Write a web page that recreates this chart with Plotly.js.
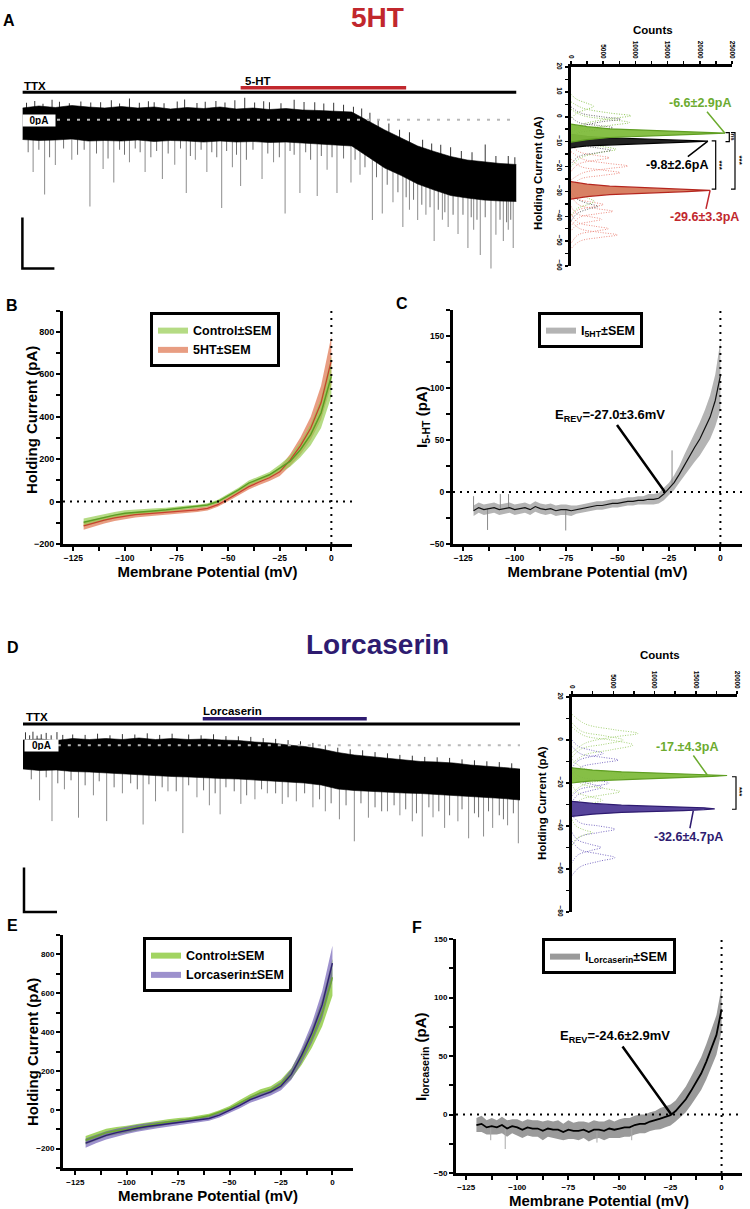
<!DOCTYPE html>
<html><head><meta charset="utf-8">
<script src="https://cdn.plot.ly/plotly-3.0.1.min.js"></script>
<style>body{margin:0;background:#fff}#chart{width:750px;height:1209px}</style>
</head><body><div id="chart"></div>
<script>
const FONT = 'Arial, "Liberation Sans", Helvetica, sans-serif';

// ---------------- DATA ----------------
// raw holding-current traces (time in s, current in pA; envelope of the recording)
const traceTime = [0,20,40,60,80,100,120,140,160,180,200,220,240,260,280,300,320,340,360,380,400,420,440,460,480,500,520,540,560,580,600];
const traceA_top = [4.7,5.5,4.9,5.7,5.1,4.7,5.3,4.7,5.1,4.3,4.9,4.5,5.1,4.3,4.7,4.1,4.5,3.9,3.7,3.3,3.1,-0.5,-4.1,-7.3,-10.5,-12.7,-14.7,-16.1,-16.9,-17.5,-17.9];
const traceA_bottom = [-7.9,-8.3,-8.1,-7.7,-8.5,-8.3,-8.5,-8.1,-8.7,-8.3,-8.5,-8.9,-8.5,-8.9,-8.7,-9.1,-8.9,-9.3,-9.5,-9.9,-10.5,-14.9,-19.3,-22.3,-25.7,-28.1,-30.3,-31.3,-32.1,-32.5,-32.7];
const spikesA_t = [13,27,40,60,82,98,111,130,149,170,185,199,210,224,242,255,265,291,305,319,337,358,370,382,399,410,425,437,450,462,470,480,490,500,510,517,529,541,548,556,569,575,584,590,596];
const spikesA_low = [-20.9,-29.9,-18.1,-16,-34.7,-19.7,-25.1,-17,-20.9,-23.7,-18,-29.3,-16,-20.9,-35.3,-19,-26.5,-23.7,-17,-37.5,-29.3,-30.5,-20,-29.3,-25.1,-22,-40.1,-37.5,-33,-42.9,-36,-40.1,-38,-48.5,-40,-42.9,-45.7,-51.3,-44,-54.1,-59.5,-46,-48.5,-44,-51.3];
const spikesA_from = [-4,-4,-4,-4,-4,-4,-4,-4,-4,-4,-4,-4,-4,-4,-4,-4,-4,-4,-4,-4,-4,-4,-4,-4,-4,-8,-10,-14,-16,-19,-21,-23,-24,-25,-27,-27,-27,-27,-27,-27,-27,-27,-27,-27,-27];
const shallowA_t = [7,20,33,50,67,75,90,104,118,124,137,143,156,163,177,192,204,217,230,236,248,260,272,280,298,312,325,330,344,350,363,376,390,404,416,430,443,456,466,475,485,495,505,513,523,535,545,552,562,580,588,593];
const shallowA_low = [-13,-12,-15,-11.5,-14,-12,-13.5,-15.5,-12,-14,-11.5,-13,-15,-12.5,-13.5,-11.5,-14.5,-12,-13,-15,-12.5,-14,-16,-12,-13.5,-15,-12.5,-14,-13,-16,-14.5,-15,-15.5,-16,-19,-23,-26,-29,-31,-32,-34,-35,-36,-37,-38,-38,-39,-40,-39,-40,-41,-40];
const shallowA_from = [-4,-4,-4,-4,-4,-4,-4,-4,-4,-4,-4,-4,-4,-4,-4,-4,-4,-4,-4,-4,-4,-4,-4,-4,-4,-4,-4,-4,-4,-4,-4,-4,-4,-6,-10,-13,-17,-20,-22,-23,-24,-25,-26,-27,-27,-27,-27,-27,-27,-27,-27,-27];
const upA_t = [5,15,25,36,45,57,71,83,95,108,118,130,142,153,160,172,188,197,212,222,235,246,258,270,282,293,300,314,330,342,355,366,378,390,402,412,422,432,445,458,470,486,497,508,520,533,546,562,575,590,598];
const upA_high = [6.8,7.5,6.4,8,7.2,6.6,7.3,6.9,7,7.8,6.5,8.5,6.8,7.4,7,6.6,7.3,8.1,6.7,7.2,7.5,6.9,7.8,8.8,6.9,7.4,7,6.6,8,7.1,7,6.5,6.8,6,5.2,4.5,2.8,0,-1.5,-4,-5,-8,-9.5,-10,-11,-12.5,-13,-9.9,-14.5,-14.5,-15];
const upA_from = [2,2,2,2,2,2,2,2,2,2,2,2,2,2,2,2,2,2,2,2,2,2,2,2,2,2,2,2,2,2,2,2,2,2,0,-2,-4,-6,-8,-11,-13,-15,-17,-20,-20,-20,-20,-20,-20,-20,-20];
const drugA = [265, 466];   // 5-HT application (s)

const traceD_top = [2.65,3.15,2.4,3.4,2.9,3.4,2.9,3.65,2.9,3.4,2.9,3.15,2.65,2.4,1.65,1.15,0.15,-0.6,-1.85,-3.6,-4.85,-5.6,-6.35,-7.35,-8.1,-8.35,-8.85,-9.85,-10.35,-11.1,-11.85];
const traceD_bottom = [-11.85,-12.6,-12.35,-13.1,-13.35,-13.85,-14.1,-14.85,-15.1,-15.6,-15.85,-16.35,-16.6,-16.85,-17.35,-17.85,-18.35,-18.85,-19.85,-21.85,-22.6,-23.1,-23.35,-23.85,-24.1,-24.6,-24.85,-25.35,-25.85,-26.6,-27.35];
const spikesD_t = [20,35,50,67,85,101,120,145,160,175,193,210,225,238,263,280,295,313,330,350,365,382,400,417,440,455,470,482,495,509,525,538,556,567,585,598];
const spikesD_low = [-27.5,-37.9,-22,-36.2,-25,-37.9,-24,-39.6,-28,-23,-43.9,-26,-30,-34.5,-29.3,-27,-24,-29.3,-28,-31,-33,-37,-48,-36.2,-33,-35,-38,-45.6,-36,-41.3,-38,-46.5,-45.6,-41.3,-40,-49];
const spikesD_from = [-6,-6,-6,-6,-6,-6,-6,-6,-6,-6,-6,-6,-6,-6,-6,-6,-6,-10,-10,-10,-10,-14,-14,-14,-18,-18,-18,-18,-18,-18,-18,-18,-18,-18,-18,-18];
const shallowD_t = [10,28,42,58,75,92,110,130,138,152,168,185,200,218,232,245,255,270,288,305,320,340,358,372,390,408,425,433,448,462,475,490,502,515,530,545,550,562,575,580,592];
const shallowD_low = [-17,-16,-19,-17.5,-20,-18,-21,-19,-22,-19.5,-21,-23,-20,-22.5,-24,-21,-23,-25,-22,-24,-26,-24,-27,-29,-30,-29,-31,-33,-30,-32,-34,-31,-33,-35,-32,-34,-36,-33,-35,-37,-34];
const shallowD_from = [-6,-6,-6,-6,-6,-6,-6,-6,-6,-6,-6,-6,-6,-6,-6,-6,-6,-6,-6,-10,-10,-10,-10,-10,-10,-14,-14,-14,-14,-14,-18,-18,-18,-18,-18,-18,-18,-18,-18,-18,-18];
const upD_t = [3,8,12,17,22,28,34,41,48,60,75,90,105,120,135,150,165,180,200,215,230,245,260,275,290,305,320,335,350,365,380,395,410,425,440,455,470,485,500,515,530,545,560,575,590];
const upD_high = [6.5,5,6.8,4.8,5.5,6.2,5,6.6,5.2,5.4,5.2,5.8,5,5.6,5.4,6,5.2,5.8,5.4,5,5.5,4.6,4.5,4.2,3.6,3.2,2.6,2,1.2,0,-1.2,-2,-2.5,-3.4,-4,-4.8,-5.2,-5.8,-6,-6.3,-7,-7.5,-8,-8.4,-9];
const upD_from = [0,0,0,0,0,0,0,0,0,0,0,0,0,0,0,0,0,0,0,0,0,0,0,0,0,-6,-6,-6,-6,-6,-6,-6,-14,-14,-14,-14,-14,-14,-14,-14,-14,-14,-14,-14,-14];
const drugD = [217, 415];   // lorcaserin application (s)

// all-point histograms (counts vs holding current)
const peakA_ctrl_cnt = [0,800,2500,6000,10000,14000,19000,23900,19000,14000,10000,6000,2500,800,0];
const peakA_ctrl_pA = [-3.0,-3.3,-4.0,-4.85,-5.3,-5.65,-6.1,-6.6,-7.1,-7.55,-7.9,-8.35,-9.2,-9.9,-10.2];
const peakA_wash_cnt = [0,800,2500,6000,10000,14000,18000,21250,18000,14000,10000,6000,2500,800,0];
const peakA_wash_pA = [-7.1,-7.4,-7.9,-8.45,-8.8,-9.05,-9.4,-9.8,-10.2,-10.55,-10.8,-11.15,-11.7,-12.2,-12.5];
const peakA_5ht_cnt = [0,800,2500,6000,10000,14000,18000,21600,18000,14000,10000,6000,2500,800,0];
const peakA_5ht_pA = [-26.1,-26.5,-27.1,-27.9,-28.35,-28.7,-29.1,-29.6,-30.1,-30.5,-30.85,-31.3,-32.1,-32.7,-33.1];
const dotA_ctrl_pA = [[6,3.5,1.5,0.4,-0.8,-3,-5.5],[3,0.5,-1.1,-2.3,-3.5,-5.2,-8],[9,7,5.4,4.2,3,1.5,-1],[-7,-10,-11.8,-13.1,-14.4,-16.5,-20],[-28,-31,-32.7,-34,-35.3,-37,-40]];
const dotA_ctrl_cnt = [[0,1800,6000,9300,6000,1800,0],[0,1800,6000,9100,6000,1800,0],[0,900,2500,3500,2500,900,0],[0,1500,4500,7000,4500,1500,0],[0,900,2600,3600,2600,900,0]];
const dotA_wash_pA = [[4,1.5,0,-1,-2,-4,-6.5],[0,-2.3,-3.5,-4.4,-5.3,-6.5,-9],[-8,-11,-12.5,-13.5,-14.5,-16,-19],[-30,-33,-35,-36,-37,-39,-42]];
const dotA_wash_cnt = [[0,1500,4800,7700,4800,1500,0],[0,1200,4200,6500,4200,1200,0],[0,1200,4000,6200,4000,1200,0],[0,900,2800,4200,2800,900,0]];
const dotA_5ht_pA = [[-11,-14,-15.5,-16.5,-17.5,-19,-22],[-14,-17,-18.7,-19.8,-20.9,-22.6,-25.5],[-17,-20,-21.4,-22.5,-23.6,-25,-28],[-30,-33,-34.3,-35.3,-36.3,-37.6,-40.5],[-32,-35.5,-37,-38,-39,-40.5,-44],[-36,-39,-40.2,-41.2,-42.2,-43.5,-46],[-39,-42.5,-44,-45,-46,-47.5,-51],[-42,-45,-46.5,-47.5,-48.5,-50,-53]];
const dotA_5ht_cnt = [[0,1200,3800,5900,3800,1200,0],[0,1800,5600,8800,5600,1800,0],[0,1500,4800,7600,4800,1500,0],[0,1000,3200,5000,3200,1000,0],[0,1300,4100,6500,4100,1300,0],[0,900,3000,4800,3000,900,0],[0,1100,3700,5800,3700,1100,0],[0,1400,4600,7200,4600,1400,0]];

const peakD_ctrl_cnt = [0,800,2500,6000,10000,14000,17000,18800,17000,14000,10000,6000,2500,800,0];
const peakD_ctrl_pA = [-13.0,-13.4,-14.0,-14.8,-15.25,-15.65,-16.05,-16.5,-16.95,-17.35,-17.75,-18.2,-19.0,-19.6,-20.0];
const peakD_lor_cnt = [0,800,2500,6000,10000,13500,16000,17300,16000,13500,10000,6000,2500,800,0];
const peakD_lor_pA = [-28.5,-28.9,-29.5,-30.3,-30.75,-31.15,-31.55,-32.0,-32.45,-32.85,-33.25,-33.7,-34.5,-35.1,-35.5];
const dotD_ctrl_pA = [[12,7.5,4.8,3.1,1.4,-1.5,-6],[6,2,0,-2.3,-4.6,-7,-11],[8,4,2,0,-2,-4,-8],[-9,-13,-15,-16.7,-18.4,-21,-25],[-17,-20.5,-22.4,-24,-25.6,-27.5,-31],[-21,-24.5,-26.5,-28,-29.5,-31.5,-35],[-37,-40,-42,-43,-44,-46,-49]];
const dotD_ctrl_cnt = [[0,1600,5100,8000,5100,1600,0],[0,1500,4700,7400,4700,1500,0],[0,1200,3900,6200,3900,1200,0],[0,1300,4200,6600,4200,1300,0],[0,1200,3700,5800,3700,1200,0],[0,700,2300,3700,2300,700,0],[0,500,1600,2500,1600,500,0]];
const dotD_lor_pA = [[-3,-6.5,-8,-9.3,-10.6,-12.5,-16],[0,-3,-4.8,-6.2,-7.6,-9.5,-13],[-15,-18.5,-20.5,-22,-23.5,-25.5,-29],[-35,-38.5,-40,-41.5,-43,-45,-49],[-47,-51,-53,-54.7,-56.4,-59,-63],[-43,-46.5,-48.5,-50,-51.5,-53.5,-57],[-14,-17,-18.6,-20,-21.4,-23,-26]];
const dotD_lor_cnt = [[0,1100,3600,5600,3600,1100,0],[0,800,2400,3800,2400,800,0],[0,700,2300,3700,2300,700,0],[0,1000,3300,5200,3300,1000,0],[0,1000,3300,5200,3300,1000,0],[0,700,2200,3500,2200,700,0],[0,900,2900,4500,2900,900,0]];

// I-V curves (membrane potential in mV, current in pA)
const mvB = [-120,-115,-110,-105,-100,-95,-90,-85,-80,-75,-70,-65,-60,-55,-50,-45,-40,-35,-30,-25,-20,-15,-10,-5,0];
const ctrlB_mean = [-98,-86,-74,-64,-55,-50,-47,-43,-39,-33,-28,-24,-16,0,27,55,87,107,126,157,189,244,315,417,590];
const ctrlB_sem = [18,17,16,15,14,13,12,11,10,10,9,9,8,8,9,10,12,12,13,18,25,35,50,70,95];
const htB_mean = [-115,-100,-88,-77,-68,-62,-58,-54,-50,-47,-44,-39,-32,-15,12,42,70,92,112,140,195,262,345,465,665];
const htB_sem = [18,17,16,15,14,13,12,12,11,11,10,10,10,10,11,12,13,14,15,20,28,40,55,80,115];

const mvFine = [-120,-117.5,-115,-112.5,-110,-107.5,-105,-102.5,-100,-97.5,-95,-92.5,-90,-87.5,-85,-82.5,-80,-77.5,-75,-72.5,-70,-67.5,-65,-62.5,-60,-57.5,-55,-52.5,-50,-47.5,-45,-42.5,-40,-37.5,-35,-32.5,-30,-27.5,-25,-22.5,-20,-17.5,-15,-12.5,-10,-7.5,-5,-2.5,0];
const iC_mean = [-18,-15,-17,-16,-15,-17,-16,-15,-17,-16,-15,-17,-14,-16,-17,-16,-18,-17,-17,-18,-17,-16,-15,-14,-13,-13,-12,-11,-11,-10,-9,-9,-8,-8,-7,-7,-6,-2,3,9,17,26,34,43,51,61,72,88,112];
const iC_sem = [5,5,5,5,5,5,5,5,5,5,5,5,5,5,5,5,5,5,5,5,4,4,4,4,4,4,4,4,4,4,4,4,4,4,5,5,5,6,6,7,8,10,12,14,16,18,21,25,33];
const spkC_mv = [-120,-113.2,-107,-103,-75.2,-23.5];
const spkC_from = [-18,-16,-16,-15,-17,8];
const spkC_to = [-4,-36.5,-2,-2,-37,40];

const mvE = [-120,-115,-110,-105,-100,-95,-90,-85,-80,-75,-70,-65,-60,-55,-50,-45,-40,-35,-30,-25,-20,-15,-10,-5,0];
const ctrlE_mean = [-157,-137,-118,-108,-101,-90,-80,-71,-63,-56,-50,-41,-31,-14,7,36,64,88,103,134,186,268,369,499,682];
const ctrlE_sem = [22,21,20,19,18,17,16,15,14,13,12,12,11,11,12,14,16,17,18,22,28,38,50,70,95];
const lorE_mean = [-172,-150,-132,-118,-106,-95,-86,-79,-72,-66,-60,-53,-45,-28,-5,22,52,74,92,122,182,280,395,540,755];
const lorE_sem = [24,22,21,20,19,18,17,16,15,14,13,13,12,12,13,14,16,17,18,22,28,38,50,70,90];

const iF_mean = [-9,-8,-11,-10,-11,-9,-12,-10,-11,-13,-11,-12,-12,-14,-12,-13,-13,-15,-13,-14,-14,-13,-15,-13,-13,-14,-12,-13,-12,-11,-11,-9,-8,-8,-6,-5,-3.5,-2,-0.5,3,8,13,20,27,35,45,56,68,90];
const iF_sem = [6,7,6,7,6,7,7,6,7,7,7,7,7,8,7,7,8,7,8,7,8,7,8,8,7,8,8,7,8,8,8,8,8,8,8,8,9,9,9,9,10,11,12,13,14,15,16,17,19];
const spkF_mv = [-113,-105.9,-61,-44];
const spkF_from = [-10,-10,-13,-10];
const spkF_to = [-22,-29.5,-24,-22];

// ---------------- BUILD ----------------
const X = px => px / 750;
const Y = py => 1 - py / 1209;
const traces = [];
const add = t => traces.push(Object.assign({hoverinfo:'skip'}, t));
function segs(xs, from, to) { const x = [], y = []; xs.forEach((v, i) => { x.push(v, v, null); y.push(from[i], to[i], null); }); return {x, y}; }
function segTrace(xs, from, to, color, w, ax, ay) { const s = segs(xs, from, to); add({x: s.x, y: s.y, xaxis: ax, yaxis: ay, mode: 'lines', line: {color: color, width: w}, showlegend: false}); }
function band(xs, mean, sem, fillcolor, ax, ay, leg) {
  add({x: xs, y: mean.map((m, i) => m - sem[i]), xaxis: ax, yaxis: ay, mode: 'lines', line: {width: 0, color: fillcolor}, showlegend: false});
  add(Object.assign({x: xs, y: mean.map((m, i) => m + sem[i]), xaxis: ax, yaxis: ay, mode: 'lines', fill: 'tonexty', fillcolor: fillcolor, line: {width: 0, color: fillcolor}, showlegend: false}, leg || {}));
}
function line(xs, ys, color, w, ax, ay) { add({x: xs, y: ys, xaxis: ax, yaxis: ay, mode: 'lines', line: {color: color, width: w}, showlegend: false}); }
function rawTrace(top, bottom, ax, ay) {
  add({x: traceTime, y: bottom, xaxis: ax, yaxis: ay, mode: 'lines', line: {color: '#000', width: 0.6}, showlegend: false});
  add({x: traceTime, y: top, xaxis: ax, yaxis: ay, mode: 'lines', fill: 'tonexty', fillcolor: '#000', line: {color: '#000', width: 0.6}, showlegend: false});
}

// Panel A trace
segTrace(spikesA_t, spikesA_from, spikesA_low, '#5a5a5a', 0.7, 'x', 'y');
segTrace(shallowA_t, shallowA_from, shallowA_low, '#333', 0.7, 'x', 'y');
rawTrace(traceA_top, traceA_bottom, 'x', 'y');
segTrace(upA_t, upA_from, upA_high, '#000', 0.8, 'x', 'y');

// Panel A histogram
const dotLine = (pa, cn, col, ax, ay) => pa.forEach((p, i) => add({x: cn[i], y: p, xaxis: ax, yaxis: ay, mode: 'lines', line: {color: col, width: 1, dash: '1px,1.5px', shape: 'spline'}, showlegend: false}));
dotLine(dotA_5ht_pA, dotA_5ht_cnt, '#ee8f84', 'x2', 'y2');
dotLine(dotA_ctrl_pA, dotA_ctrl_cnt, '#93c95a', 'x2', 'y2');
dotLine(dotA_wash_pA, dotA_wash_cnt, '#6a6a6a', 'x2', 'y2');
const peak = (cn, pa, fill, col, ax, ay) => add({x: cn, y: pa, xaxis: ax, yaxis: ay, mode: 'lines', fill: 'toself', fillcolor: fill, line: {color: col, width: 1.2}, showlegend: false});
peak(peakA_5ht_cnt, peakA_5ht_pA, 'rgba(214,122,92,0.95)', '#b5261e', 'x2', 'y2');
peak(peakA_wash_cnt, peakA_wash_pA, '#222', '#000', 'x2', 'y2');
peak(peakA_ctrl_cnt, peakA_ctrl_pA, 'rgba(128,188,60,0.95)', '#5f9e22', 'x2', 'y2');

// Panel B
band(mvB, htB_mean, htB_sem, 'rgba(228,140,108,0.85)', 'x3', 'y3', {showlegend: true, name: '5HT±SEM', legend: 'legend', legendrank: 2});
band(mvB, ctrlB_mean, ctrlB_sem, 'rgba(150,204,80,0.7)', 'x3', 'y3', {showlegend: true, name: 'Control±SEM', legend: 'legend', legendrank: 1});
line(mvB, htB_mean, '#c8412f', 1.3, 'x3', 'y3');
line(mvB, ctrlB_mean, '#5a9e24', 1.5, 'x3', 'y3');

// Panel C
band(mvFine, iC_mean, iC_sem, '#b4b4b4', 'x4', 'y4', {showlegend: true, name: 'I<sub>5HT</sub>±SEM', legend: 'legend2'});
segTrace(spkC_mv, spkC_from, spkC_to, '#8a8a8a', 1, 'x4', 'y4');
line(mvFine, iC_mean, '#111', 1.2, 'x4', 'y4');

// Panel D trace
segTrace(spikesD_t, spikesD_from, spikesD_low, '#5a5a5a', 0.7, 'x5', 'y5');
segTrace(shallowD_t, shallowD_from, shallowD_low, '#333', 0.7, 'x5', 'y5');
rawTrace(traceD_top, traceD_bottom, 'x5', 'y5');
segTrace(upD_t, upD_from, upD_high, '#000', 0.8, 'x5', 'y5');

// Panel D histogram
dotLine(dotD_lor_pA, dotD_lor_cnt, '#7d6ec4', 'x6', 'y6');
dotLine(dotD_ctrl_pA, dotD_ctrl_cnt, '#a6d277', 'x6', 'y6');
peak(peakD_lor_cnt, peakD_lor_pA, 'rgba(78,58,150,0.95)', '#2e1b70', 'x6', 'y6');
peak(peakD_ctrl_cnt, peakD_ctrl_pA, 'rgba(128,188,60,0.95)', '#5f9e22', 'x6', 'y6');

// Panel E
band(mvE, ctrlE_mean, ctrlE_sem, 'rgba(146,204,70,0.85)', 'x7', 'y7', {showlegend: true, name: 'Control±SEM', legend: 'legend3', legendrank: 1});
band(mvE, lorE_mean, lorE_sem, 'rgba(92,72,172,0.6)', 'x7', 'y7', {showlegend: true, name: 'Lorcaserin±SEM', legend: 'legend3', legendrank: 2});
line(mvE, ctrlE_mean, '#6aa82c', 1.4, 'x7', 'y7');
line(mvE, lorE_mean, '#2e1f73', 1.4, 'x7', 'y7');

// Panel F
band(mvFine, iF_mean, iF_sem, '#9a9a9a', 'x8', 'y8', {showlegend: true, name: 'I<sub>Lorcaserin</sub>±SEM', legend: 'legend4'});
segTrace(spkF_mv, spkF_from, spkF_to, '#aaa', 1, 'x8', 'y8');
line(mvFine, iF_mean, '#000', 1.8, 'x8', 'y8');

// ---------------- LAYOUT ----------------
const tf = (sz) => ({family: FONT, size: sz, color: '#000', weight: 'bold'});
function ivAxis(dom, rng, dt, mdt, anchor, extra) {
  return Object.assign({domain: dom, range: rng, anchor: anchor, showline: true, linewidth: 3, linecolor: '#000', ticks: 'outside', ticklen: 4, tickwidth: 2, tickcolor: '#000', dtick: dt, tick0: 0, showgrid: false, zeroline: false, tickfont: tf(9), minor: {ticks: 'outside', dtick: mdt, ticklen: 4, tickwidth: 2, tickcolor: '#000', showgrid: false}}, extra || {});
}
function histAxis(dom, rng, dt, mdt, anchor, extra) {
  return Object.assign({domain: dom, range: rng, anchor: anchor, showline: true, linewidth: 3, linecolor: '#000', ticks: 'outside', ticklen: 3, tickwidth: 1.5, tickcolor: '#000', dtick: dt, tick0: 0, tickformat: 'd', showgrid: false, zeroline: false, tickangle: 90, tickfont: tf(6.5), minor: {ticks: 'outside', dtick: mdt, ticklen: 3, tickwidth: 1.5, tickcolor: '#000', showgrid: false}}, extra || {});
}
const hidden = (dom, rng, anchor) => ({domain: dom, range: rng, anchor: anchor, visible: false, fixedrange: true});
const xTitle = {text: 'Membrane Potential (mV)', font: tf(15), standoff: 3};

const P = (x, y, text, sz, extra) => Object.assign({xref: 'paper', yref: 'paper', x: X(x), y: Y(y), text: text, showarrow: false, font: tf(sz), xanchor: 'center', yanchor: 'middle'}, extra || {});
const annotations = [
  P(8.6, 20, 'A', 16), P(12, 305, 'B', 16), P(402, 303, 'C', 16), P(12.7, 647, 'D', 16), P(12, 925, 'E', 16), P(417, 927, 'F', 16),
  P(377, 17, '5HT', 28, {font: Object.assign(tf(28), {color: '#c1272d'})}),
  P(377, 644, 'Lorcaserin', 28, {font: Object.assign(tf(28), {color: '#2e1b70'})}),
  P(22, 86, 'TTX', 11.5, {xanchor: 'left'}),
  P(243, 81, '5-HT', 11.5, {xanchor: 'left'}),
  P(22.4, 120.2, '0pA', 10, {xanchor: 'left', bgcolor: '#fff', width: 30, height: 9, borderpad: 1, align: 'center'}),
  P(24, 717, 'TTX', 11.5, {xanchor: 'left'}),
  P(201, 711, 'Lorcaserin', 11.5, {xanchor: 'left'}),
  P(24, 745, '0pA', 10, {xanchor: 'left', bgcolor: '#fff', width: 31, height: 9, borderpad: 1, align: 'center'}),
  P(653, 30, 'Counts', 11.5), P(538, 173, 'Holding Current (pA)', 11.5, {textangle: -90}),
  P(660, 655, 'Counts', 11.5), P(542, 803, 'Holding Current (pA)', 11.5, {textangle: -90}),
  // I-V y-axis titles
  P(32, 420, 'Holding Current (pA)', 15, {textangle: -90}),
  P(422, 417, 'I<sub>5-HT</sub> (pA)', 15, {textangle: -90}),
  P(32, 1052, 'Holding Current (pA)', 15, {textangle: -90}),
  P(421, 1057, 'I<sub>lorcaserin</sub> (pA)', 15, {textangle: -90}),
  // significance markers
  P(732.5, 137, 'ns', 6, {textangle: 90}),
  P(719.5, 165, '***', 8, {textangle: 90}),
  P(739.5, 160, '***', 8, {textangle: 90}),
  P(740, 792, '***', 8, {textangle: 90}),
  // histogram value labels
  {xref: 'x2', yref: 'y2', x: 23900, y: -6.6, ax: -25, ay: -30, text: '-6.6±2.9pA', font: Object.assign(tf(12.5), {color: '#6cab2f'}), showarrow: true, arrowhead: 0, arrowwidth: 1.5, arrowcolor: '#6cab2f'},
  {xref: 'x2', yref: 'y2', x: 21250, y: -9.8, ax: -31, ay: 24, text: '-9.8±2.6pA', font: tf(12.5), showarrow: true, arrowhead: 0, arrowwidth: 1.5, arrowcolor: '#000'},
  {xref: 'x2', yref: 'y2', x: 21600, y: -29.6, ax: -6, ay: 27, text: '-29.6±3.3pA', font: Object.assign(tf(12.5), {color: '#c1272d'}), showarrow: true, arrowhead: 0, arrowwidth: 1.5, arrowcolor: '#c1272d'},
  {xref: 'x6', yref: 'y6', x: 16400, y: -16.3, ax: -20, ay: -28, text: '-17.±4.3pA', font: Object.assign(tf(12.5), {color: '#6cab2f'}), showarrow: true, arrowhead: 0, arrowwidth: 1.5, arrowcolor: '#6cab2f'},
  {xref: 'x6', yref: 'y6', x: 14700, y: -32.9, ax: -5, ay: 26, text: '-32.6±4.7pA', font: Object.assign(tf(12.5), {color: '#2e1b70'}), showarrow: true, arrowhead: 0, arrowwidth: 1.5, arrowcolor: '#2e1b70'},
  // reversal potentials
  {xref: 'x4', yref: 'y4', x: -27, y: 0, ax: -55, ay: -77, text: 'E<sub>REV</sub>=-27.0±3.6mV', font: tf(13), showarrow: true, arrowhead: 0, arrowwidth: 2.5, arrowcolor: '#000'},
  {xref: 'x8', yref: 'y8', x: -24.6, y: 0, ax: -56, ay: -78, text: 'E<sub>REV</sub>=-24.6±2.9mV', font: tf(13), showarrow: true, arrowhead: 0, arrowwidth: 2.5, arrowcolor: '#000'}
];

const dotted = {color: '#000', width: 2, dash: '2px,5px'};
const zeroLines = (xa, ya) => [
  {type: 'line', xref: xa + ' domain', x0: 0, x1: 1, yref: ya, y0: 0, y1: 0, line: dotted},
  {type: 'line', xref: xa, x0: 0, x1: 0, yref: ya + ' domain', y0: 0, y1: 1, line: dotted}
];
const bracket = (xr, xl, ya, y0, y1) => ({type: 'path', xref: 'paper', yref: ya, path: `M${X(xl)},${y0} L${X(xr)},${y0} L${X(xr)},${y1} L${X(xl)},${y1}`, line: {color: '#000', width: 1.2}});
const tEnd = traceTime[traceTime.length - 1];
const shapes = [
  // drug application bars
  {type: 'line', xref: 'x', x0: traceTime[0], x1: tEnd, yref: 'paper', y0: Y(92.3), y1: Y(92.3), line: {color: '#000', width: 3}},
  {type: 'line', xref: 'x', x0: drugA[0], x1: drugA[1], yref: 'paper', y0: Y(87.8), y1: Y(87.8), line: {color: '#c1272d', width: 3.5}},
  {type: 'line', xref: 'x', x0: 42, x1: tEnd, yref: 'y', y0: 0, y1: 0, line: {color: '#b8b8b8', width: 2, dash: '3px,7px'}},
  {type: 'line', xref: 'x5', x0: traceTime[0], x1: tEnd, yref: 'paper', y0: Y(724), y1: Y(724), line: {color: '#000', width: 3}},
  {type: 'line', xref: 'x5', x0: drugD[0], x1: drugD[1], yref: 'paper', y0: Y(718.8), y1: Y(718.8), line: {color: '#2e1b70', width: 3.5}},
  {type: 'line', xref: 'x5', x0: 42, x1: tEnd, yref: 'y5', y0: 0, y1: 0, line: {color: '#b8b8b8', width: 2, dash: '3px,7px'}},
  // scale bars
  {type: 'path', xref: 'paper', yref: 'paper', path: `M${X(22.4)},${Y(217.6)} L${X(22.4)},${Y(268.6)} L${X(54.4)},${Y(268.6)}`, line: {color: '#000', width: 2.5}},
  {type: 'path', xref: 'paper', yref: 'paper', path: `M${X(24)},${Y(867.5)} L${X(24)},${Y(912)} L${X(57)},${Y(912)}`, line: {color: '#000', width: 2.5}},
  // significance brackets
  bracket(729.3, 725.5, 'y2', -6.4, -10),
  bracket(715.7, 711.7, 'y2', -9.7, -29.1),
  bracket(735, 731, 'y2', -6.4, -29.1),
  bracket(736, 732, 'y6', -17.1, -32.2),
  ...zeroLines('x3', 'y3'), ...zeroLines('x4', 'y4'), ...zeroLines('x8', 'y8')
].map(sh => Object.assign({layer: 'above'}, sh));

const legendBase = (x, y) => ({x: X(x), y: Y(y), xanchor: 'left', yanchor: 'top', bgcolor: '#fff', bordercolor: '#000', borderwidth: 3, font: tf(12.5), itemwidth: 30, tracegroupgap: 0, traceorder: 'normal'});

const layout = {
  width: 750, height: 1209, margin: {l: 0, r: 0, t: 0, b: 0}, paper_bgcolor: '#fff', plot_bgcolor: 'rgba(0,0,0,0)',
  font: {family: FONT, color: '#000'}, showlegend: true,
  xaxis: hidden([X(22.4), X(516.5)], [0, 600], 'y'),
  yaxis: hidden([Y(272), Y(95)], [-60.9, 9.9], 'x'),
  xaxis2: histAxis([X(571), X(732)], [0, 25000], 5000, 2500, 'y2', {side: 'top'}),
  yaxis2: histAxis([Y(266), Y(67)], [-60, 20], 10, 5, 'x2'),
  xaxis3: ivAxis([X(63), X(352)], [-130, 10], 25, 12.5, 'y3', {title: xTitle, tickfont: tf(8.5)}),
  yaxis3: ivAxis([Y(544), Y(310.5)], [-200, 900], 200, 100, 'x3'),
  xaxis4: ivAxis([X(453), X(742)], [-130, 10.5], 25, 12.5, 'y4', {title: xTitle, tickfont: tf(8.5)}),
  yaxis4: ivAxis([Y(544), Y(310)], [-50, 175], 50, 25, 'x4', {tickfont: tf(8.5)}),
  xaxis5: hidden([X(23), X(520)], [0, 600], 'y5'),
  yaxis5: hidden([Y(845), Y(728)], [-49.85, 8.65], 'x5'),
  xaxis6: histAxis([X(572), X(737)], [0, 20000], 5000, 2500, 'y6', {side: 'top'}),
  yaxis6: histAxis([Y(912), Y(697)], [-80, 20], 20, 10, 'x6'),
  xaxis7: ivAxis([X(63), X(353)], [-131, 10], 25, 12.5, 'y7', {title: xTitle, tickfont: tf(8)}),
  yaxis7: ivAxis([Y(1168), Y(935)], [-300, 900], 200, 100, 'x7', {tickfont: tf(8)}),
  xaxis8: ivAxis([X(456), X(742)], [-130, 10], 25, 12.5, 'y8', {title: xTitle, tickfont: tf(8)}),
  yaxis8: ivAxis([Y(1173), Y(939)], [-50, 150], 50, 25, 'x8', {tickfont: tf(8)}),
  legend: legendBase(150, 312),
  legend2: legendBase(538, 312),
  legend3: legendBase(143, 937),
  legend4: legendBase(542, 938),
  annotations: annotations,
  shapes: shapes
};

Plotly.newPlot('chart', traces, layout, {displayModeBar: false, staticPlot: true});
</script>
</body></html>
